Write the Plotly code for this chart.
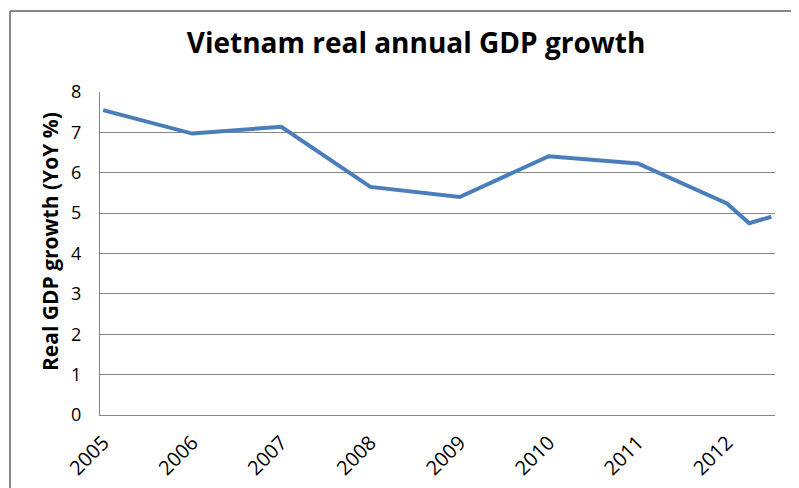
import plotly.graph_objects as go

periods = ["2005-01-01", "2006-01-01", "2007-01-01", "2008-01-01", "2009-01-01",
           "2010-01-01", "2011-01-01", "2012-01-01", "2012-04-01", "2012-07-01"]
gdp_growth = [7.55, 6.97, 7.14, 5.65, 5.40, 6.41, 6.23, 5.24, 4.75, 4.91]

tick_dates = ["2005-01-01", "2006-01-01", "2007-01-01", "2008-01-01",
              "2009-01-01", "2010-01-01", "2011-01-01", "2012-01-01"]
tick_labels = ["2005", "2006", "2007", "2008", "2009", "2010", "2011", "2012"]

fig = go.Figure()
fig.add_trace(go.Scatter(
    x=periods, y=gdp_growth, mode="lines",
    line=dict(color="#4A7EBB", width=4),
    showlegend=False, hoverinfo="x+y",
))

# page body has an 8px margin; figure sized so it ends at the window edge
OFF = 8
W, H = 799 - OFF, 488 - OFF
# desired plot area in window pixels: left 100, top 92, right 775, bottom 415
L, T = 100 - OFF, 92 - OFF
pw, ph = 675, 323
R, B = W - L - pw, H - T - ph

def px_x(xs):
    return (xs - OFF - L) / pw

def px_y(ys):
    return (T + OFF + ph - ys) / ph

fig.update_layout(
    width=W, height=H,
    margin=dict(l=L, r=R, t=T, b=B, autoexpand=False),
    paper_bgcolor="white", plot_bgcolor="white",
    font=dict(family="Open Sans", color="#000000"),
    title=dict(text="<b>Vietnam real annual GDP growth</b>",
               x=(416 - OFF) / W, xanchor="center",
               y=1 - (43 - OFF) / H, yanchor="middle",
               font=dict(size=28, family="Open Sans", color="#000000")),
    xaxis=dict(
        type="date",
        range=["2004-12-19", "2012-07-16"],
        tickmode="array", tickvals=tick_dates, ticktext=tick_labels,
        tickangle=-45, tickfont=dict(size=20, color="#000000"),
        showgrid=False, zeroline=False, automargin=False,
        showline=True, linecolor="#868686", linewidth=1,
        ticks="", ticklabelstandoff=7,
    ),
    yaxis=dict(
        range=[0, 8], dtick=1, tick0=0,
        tickfont=dict(size=18, color="#000000"),
        showgrid=True, gridcolor="#868686", gridwidth=1,
        zeroline=False, automargin=False,
        showline=True, linecolor="#868686", linewidth=1,
        ticks="", ticklabelstandoff=14,
    ),
    annotations=[
        dict(text="<b>Real GDP growth (YoY %)</b>", textangle=-90,
             xref="paper", yref="paper", x=px_x(50), y=px_y(242),
             xanchor="center", yanchor="middle", showarrow=False,
             font=dict(size=21, family="Open Sans", color="#000000")),
    ],
    shapes=[
        dict(type="line", xref="paper", yref="paper",
             x0=px_x(10), x1=px_x(10), y0=px_y(11), y1=px_y(520),
             line=dict(color="#868686", width=2)),
        dict(type="line", xref="paper", yref="paper",
             x0=px_x(10), x1=px_x(830), y0=px_y(11), y1=px_y(11),
             line=dict(color="#868686", width=2)),
    ],
)

fig.write_html("out.html")
